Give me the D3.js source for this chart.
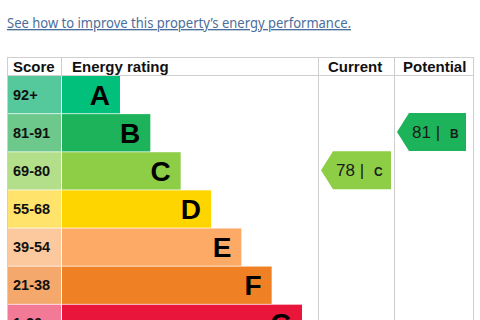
<!DOCTYPE html>
<html>
<head>
<meta charset="utf-8">
<script src="https://cdn.jsdelivr.net/npm/d3@7"></script>
<style>
  html, body { margin: 0; padding: 0; background: #fff; }
  svg { display: block; }
  text { font-family: "Liberation Sans", Arial, sans-serif; }
</style>
</head>
<body>
<svg id="epc" width="480" height="320"></svg>
<script>
var bands = ["A", "B", "C", "D", "E", "F", "G"];
var scoreRanges = ["92+", "81-91", "69-80", "55-68", "39-54", "21-38", "1-20"];
var barColors = ["#00c07c", "#1cb35a", "#8dce46", "#ffd500", "#fcaa65", "#ef8023", "#e9153b"];
var scoreColors = ["#55c89c", "#6cc98b", "#b3df8a", "#ffe36a", "#fcc99e", "#f4a86c", "#f27a97"];
var headers = ["Score", "Energy rating", "Current", "Potential"];
var current = { score: 78, band: "C" };
var potential = { score: 81, band: "B" };

var svg = d3.select("#epc");

// link line above the table
svg.append("text")
    .attr("x", 7)
    .attr("y", 28)
    .attr("textLength", 344)
    .attr("lengthAdjust", "spacingAndGlyphs")
    .style("font-family", "'Noto Sans', sans-serif")
    .style("font-size", "13.5px")
    .style("fill", "#4c6e9a")
    .style("text-decoration", "underline")
    .text("See how to improve this property\u2019s energy performance.");

var tLeft = 7, tRight = 473, tTop = 57, headH = 18;
var scoreEnd = 61, curX = 318, potX = 394;

var y = d3.scaleBand().domain(bands).range([tTop + headH + 1, tTop + headH + 1 + 38 * bands.length]).paddingInner(0.02);
// bar end grows with each band
var barEnd = d3.scaleLinear().domain([0, bands.length - 1]).range([120, 302]);

var g = svg.append("g");

// rows
var row = g.selectAll(".row")
    .data(bands)
    .enter().append("g")
    .attr("class", "row");

row.append("rect")
    .attr("x", tLeft + 1)
    .attr("y", function (d) { return y(d); })
    .attr("width", scoreEnd - tLeft - 1)
    .attr("height", y.bandwidth())
    .style("fill", function (d, i) { return scoreColors[i]; });

row.append("rect")
    .attr("x", scoreEnd + 1)
    .attr("y", function (d) { return y(d); })
    .attr("width", function (d, i) { return barEnd(i) - scoreEnd - 1; })
    .attr("height", y.bandwidth())
    .style("fill", function (d, i) { return barColors[i]; });

row.append("text")
    .attr("x", 13)
    .attr("y", function (d) { return y(d) + y.bandwidth() / 2 + 5; })
    .style("font-size", "14.5px")
    .style("font-weight", "bold")
    .style("fill", "#111")
    .text(function (d, i) { return scoreRanges[i]; });

row.append("text")
    .attr("x", function (d, i) { return barEnd(i) - 10; })
    .attr("y", function (d) { return y(d) + y.bandwidth() / 2 + 10; })
    .style("font-size", "28px")
    .style("font-weight", "bold")
    .style("text-anchor", "end")
    .style("fill", "#000")
    .text(function (d) { return d; });

// grid lines
var lines = g.append("g").style("stroke", "#cfcfcf").style("stroke-width", 1);
lines.append("line").attr("x1", tLeft).attr("x2", tRight).attr("y1", tTop + 0.5).attr("y2", tTop + 0.5);
lines.append("line").attr("x1", tLeft).attr("x2", tRight).attr("y1", tTop + headH + 0.5).attr("y2", tTop + headH + 0.5);
lines.append("line").attr("x1", tLeft + 0.5).attr("x2", tLeft + 0.5).attr("y1", tTop).attr("y2", 320);
lines.append("line").attr("x1", tRight + 0.5).attr("x2", tRight + 0.5).attr("y1", tTop).attr("y2", 320);
lines.append("line").attr("x1", scoreEnd + 0.5).attr("x2", scoreEnd + 0.5).attr("y1", tTop).attr("y2", tTop + headH);
lines.append("line").attr("x1", curX + 0.5).attr("x2", curX + 0.5).attr("y1", tTop).attr("y2", 320);
lines.append("line").attr("x1", potX + 0.5).attr("x2", potX + 0.5).attr("y1", tTop).attr("y2", 320);

// headers
var headX = [13, 72, 328, 403];
g.selectAll(".head")
    .data(headers)
    .enter().append("text")
    .attr("class", "head")
    .attr("x", function (d, i) { return headX[i]; })
    .attr("y", tTop + 15)
    .style("font-size", "15px")
    .style("font-weight", "bold")
    .style("fill", "#111")
    .text(function (d) { return d; });

// rating arrows
function arrow(rating, x0, x1) {
    var i = bands.indexOf(rating.band);
    var t = y(rating.band) - 1, h = 38, tip = 12;
    var a = g.append("g");
    a.append("path")
        .attr("d", "M" + x0 + "," + (t + h / 2) +
            "L" + (x0 + tip) + "," + t +
            "L" + x1 + "," + t +
            "L" + x1 + "," + (t + h) +
            "L" + (x0 + tip) + "," + (t + h) + "Z")
        .style("fill", barColors[i]);
    var txt = a.append("text")
        .attr("x", x0 + tip + 3)
        .attr("y", t + h / 2 + 6)
        .style("fill", "#1a1a1a");
    txt.append("tspan")
        .style("font-size", "17px")
        .text(rating.score + " |");
    txt.append("tspan")
        .attr("dx", 10)
        .style("font-size", "12px")
        .style("font-weight", "bold")
        .text(rating.band);
}

arrow(current, curX + 3, curX + 73);
arrow(potential, potX + 3, potX + 72);
</script>
</body>
</html>
